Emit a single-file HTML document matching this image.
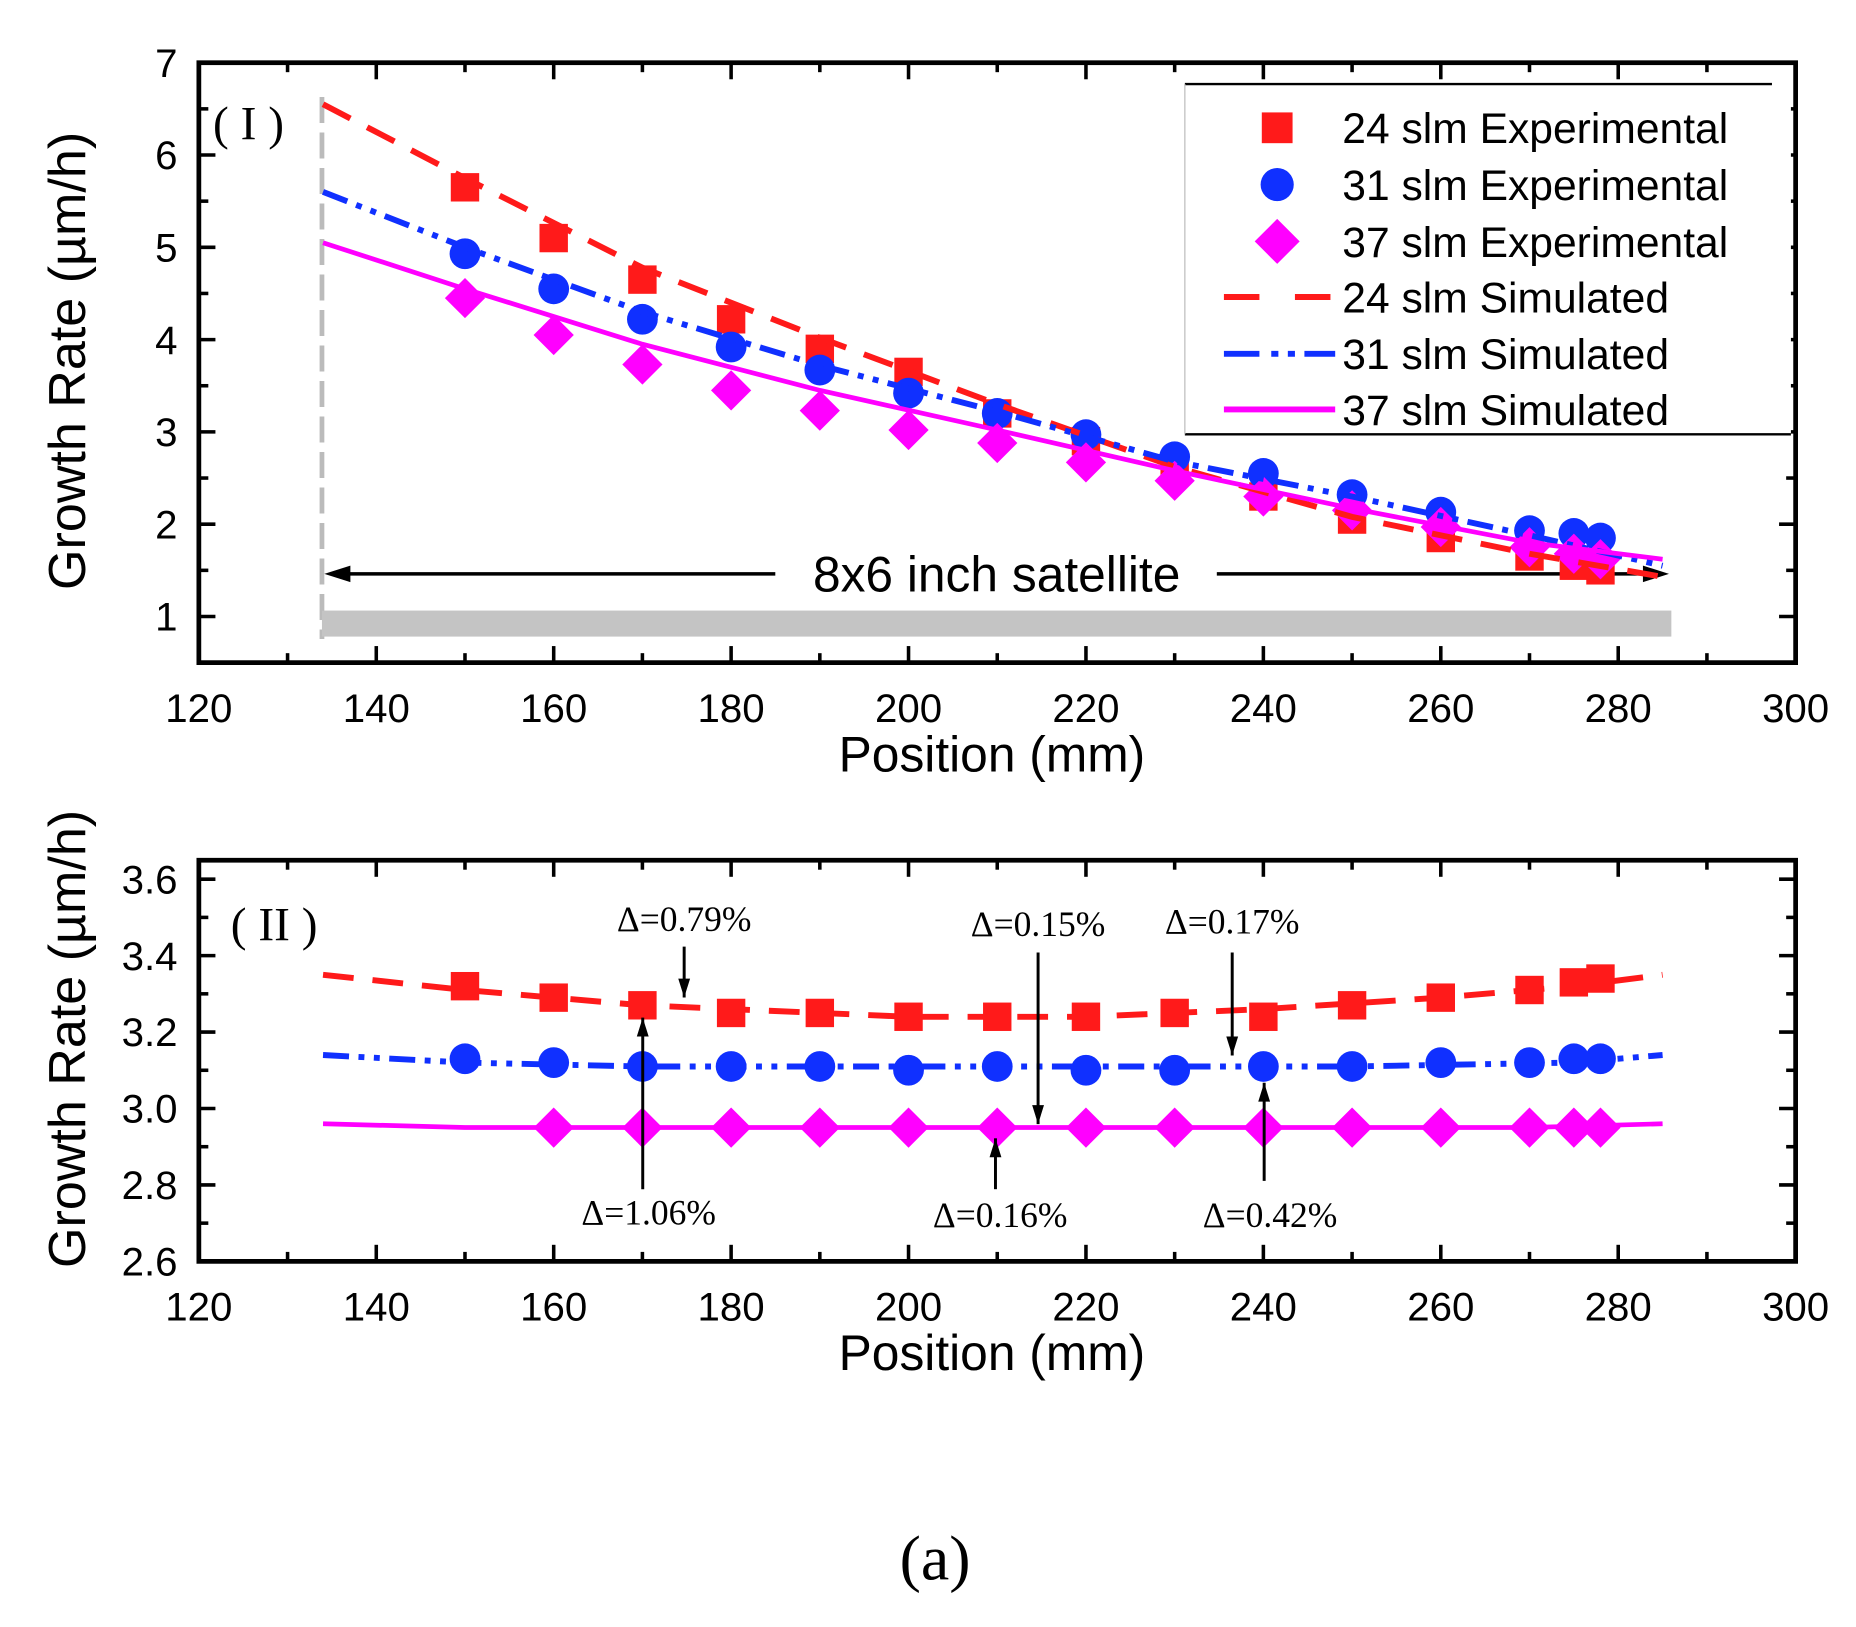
<!DOCTYPE html>
<html><head><meta charset="utf-8"><style>html,body{margin:0;padding:0;background:#fff}svg{display:block}</style></head>
<body>
<svg id="s" width="1856" height="1627" viewBox="0 0 1568 1375" preserveAspectRatio="none" xmlns="http://www.w3.org/2000/svg" font-family="Liberation Sans, Arial, sans-serif">
<rect width="1568" height="1375" fill="#fff"/>
<g id="g"></g>
</svg>
<script>
const NS="http://www.w3.org/2000/svg",g=document.getElementById('g');
function el(t,a,txt){const e=document.createElementNS(NS,t);for(const k in a)e.setAttribute(k,a[k]);if(txt!==undefined)e.textContent=txt;g.appendChild(e);return e;}
const X=v=>168+(v-120)*1349/180;
const Y1=v=>53+(7-v)*78, Y2=v=>743+(3.6-v)*323;
function axes(y0,y1,yt,Yf,fmt,lbly){
 el('rect',{x:168,y:y0,width:1349,height:y1-y0,fill:'none',stroke:'#000','stroke-width':4});
 for(let v=120;v<=300;v+=10){const x=X(v),maj=v%20==0,L=maj?14:8;
  el('line',{x1:x,x2:x,y1:y1,y2:y1-L,stroke:'#000','stroke-width':3});
  el('line',{x1:x,x2:x,y1:y0,y2:y0+L,stroke:'#000','stroke-width':3});
  if(maj)el('text',{x:x,y:y1+50,'font-size':34,'text-anchor':'middle'},v);}
 yt.forEach(([v,maj])=>{const y=Yf(v),L=maj?14:8;
  el('line',{x1:168,x2:168+L,y1:y,y2:y,stroke:'#000','stroke-width':3});
  el('line',{x1:1517,x2:1517-L,y1:y,y2:y,stroke:'#000','stroke-width':3});
  if(maj)el('text',{x:150,y:y+12,'font-size':34,'text-anchor':'end'},fmt(v));});
 el('text',{x:838,y:y1+92,'font-size':42,'text-anchor':'middle'},'Position (mm)');
}
let t1=[];for(let v=1;v<=7;v+=0.5)t1.push([v,v%1==0]);
axes(53,560,t1,Y1,v=>v,0);
let t2=[];for(let i=0;i<=10;i++){const v=2.6+i*0.1;t2.push([v,i%2==0]);}
axes(727,1066,t2,Y2,v=>v.toFixed(1),0);
el('text',{x:0,y:0,'font-size':44,'text-anchor':'middle',transform:'translate(72,305) rotate(-90)'},'Growth Rate (µm/h)');
el('text',{x:0,y:0,'font-size':44,'text-anchor':'middle',transform:'translate(72,878) rotate(-90)'},'Growth Rate (µm/h)');
el('text',{x:180,y:118,'font-size':40,'font-family':'Liberation Serif, serif'},'( I )');
el('text',{x:195,y:795,'font-size':40,'font-family':'Liberation Serif, serif'},'( II )');
// satellite
el('line',{x1:272,x2:272,y1:82,y2:540,stroke:'#bbb','stroke-width':4,'stroke-dasharray':'22,8'});
el('rect',{x:272,y:516,width:1140,height:22,fill:'#c4c4c4'});
el('line',{x1:280,x2:655,y1:485,y2:485,stroke:'#000','stroke-width':3});
el('line',{x1:1028,x2:1405,y1:485,y2:485,stroke:'#000','stroke-width':3});
el('polygon',{points:'274,485 296,478 296,492',fill:'#000'});
el('polygon',{points:'1410,485 1388,478 1388,492',fill:'#000'});
el('text',{x:842,y:500,'font-size':42,'text-anchor':'middle'},'8x6 inch satellite');
// curves top
function path(pts,Yf){return pts.map((p,i)=>(i?'L':'M')+X(p[0]).toFixed(1)+','+Yf(p[1]).toFixed(1)).join(' ');}
const rs=[[134,6.55],[150,5.75],[170,4.78],[190,4.02],[210,3.3],[230,2.62],[250,2.08],[270,1.68],[285,1.43]];
const bs=[[134,5.6],[150,5.0],[170,4.3],[190,3.72],[210,3.22],[230,2.68],[250,2.3],[270,1.88],[285,1.55]];
const ms=[[134,5.05],[150,4.55],[170,3.95],[190,3.45],[210,3.02],[230,2.58],[250,2.17],[270,1.8],[285,1.62]];
const RED='#ff1a1a',BLUE='#1030ff',MAG='#ff00ff';
function sq(x,y,s,c){el('rect',{x:x-s/2,y:y-s/2,width:s,height:s,fill:c});}
function ci(x,y,r,c){el('circle',{cx:x,cy:y,r:r,fill:c});}
function di(x,y,r,c){el('polygon',{points:`${x},${y-r} ${x+r},${y} ${x},${y+r} ${x-r},${y}`,fill:c});}
const xs=[150,160,170,180,190,200,210,220,230,240,250,260,270,275,278];
const r1=[5.65,5.1,4.65,4.22,3.9,3.65,3.2,2.9,2.6,2.3,2.05,1.85,1.65,1.55,1.5];
const b1=[4.93,4.55,4.22,3.92,3.67,3.42,3.2,2.97,2.73,2.55,2.32,2.13,1.93,1.9,1.85];
const m1=[4.45,4.05,3.73,3.45,3.23,3.02,2.88,2.67,2.47,2.3,2.15,1.97,1.75,1.68,1.62];
xs.forEach((x,i)=>sq(X(x),Y1(r1[i]),24,RED));
xs.forEach((x,i)=>ci(X(x),Y1(b1[i]),13,BLUE));
xs.forEach((x,i)=>di(X(x),Y1(m1[i]),17,MAG));
el('path',{d:path(rs,Y1),fill:'none',stroke:RED,'stroke-width':5,'stroke-dasharray':'26,16'});
el('path',{d:path(bs,Y1),fill:'none',stroke:BLUE,'stroke-width':5,'stroke-dasharray':'22,8,5,8,5,8'});
el('path',{d:path(ms,Y1),fill:'none',stroke:MAG,'stroke-width':4});
// legend
el('rect',{x:1001,y:71,width:512,height:296,fill:'#fff'});
el('line',{x1:1001,x2:1497,y1:71,y2:71,stroke:'#000','stroke-width':2});
el('line',{x1:1001,x2:1513,y1:367,y2:367,stroke:'#000','stroke-width':2});
el('line',{x1:1001,x2:1001,y1:71,y2:367,stroke:'#bbb','stroke-width':1});
const lg=[['24 slm Experimental',108],['31 slm Experimental',156],['37 slm Experimental',204],['24 slm Simulated',251],['31 slm Simulated',299],['37 slm Simulated',346]];
lg.forEach(([t,y])=>el('text',{x:1134,y:y+13,'font-size':36},t));
sq(1079,108,26,RED);ci(1079,156,14,BLUE);di(1079,204,19,MAG);
el('line',{x1:1034,x2:1128,y1:251,y2:251,stroke:RED,'stroke-width':5,'stroke-dasharray':'30,30'});
el('line',{x1:1034,x2:1128,y1:299,y2:299,stroke:BLUE,'stroke-width':5,'stroke-dasharray':'30,10,6,8,6,8'});
el('line',{x1:1034,x2:1128,y1:346,y2:346,stroke:MAG,'stroke-width':5});
// bottom
const rb=[[134,3.35],[150,3.31],[170,3.27],[200,3.24],[220,3.24],[240,3.26],[260,3.29],[275,3.32],[285,3.35]];
const bb=[[134,3.14],[150,3.12],[170,3.11],[210,3.11],[250,3.11],[275,3.12],[285,3.14]];
const mb=[[134,2.96],[150,2.95],[270,2.95],[285,2.96]];
el('path',{d:path(rb,Y2),fill:'none',stroke:RED,'stroke-width':5,'stroke-dasharray':'26,16'});
el('path',{d:path(bb,Y2),fill:'none',stroke:BLUE,'stroke-width':5,'stroke-dasharray':'22,8,5,8,5,8'});
el('path',{d:path(mb,Y2),fill:'none',stroke:MAG,'stroke-width':4});
const r2=[3.32,3.29,3.27,3.25,3.25,3.24,3.24,3.24,3.25,3.24,3.27,3.29,3.31,3.33,3.34];
const b2=[3.13,3.12,3.11,3.11,3.11,3.1,3.11,3.1,3.1,3.11,3.11,3.12,3.12,3.13,3.13];
xs.forEach((x,i)=>sq(X(x),Y2(r2[i]),24,RED));
xs.forEach((x,i)=>ci(X(x),Y2(b2[i]),13,BLUE));
xs.forEach((x,i)=>{if(x!=150)di(X(x),Y2(2.95),17,MAG);});
function arrow(x,y1,y2){el('line',{x1:x,x2:x,y1:y1,y2:y2,stroke:'#000','stroke-width':2.5});const d=y2>y1?-1:1;
 el('polygon',{points:`${x},${y2} ${x-5},${y2+d*16} ${x+5},${y2+d*16}`,fill:'#000'});}
arrow(578,800,843);arrow(877,805,950);arrow(1041,805,892);
arrow(543,1005,860);arrow(841,1005,962);arrow(1068,998,915);
const ann=[['Δ=0.79%',578,787],['Δ=0.15%',877,791],['Δ=0.17%',1041,789],['Δ=1.06%',548,1035],['Δ=0.16%',845,1037],['Δ=0.42%',1073,1037]];
ann.forEach(([t,x,y])=>el('text',{x:x,y:y,'font-size':30,'text-anchor':'middle','font-family':'Liberation Serif, serif'},t));
el('text',{x:790,y:1335,'font-size':54,'text-anchor':'middle','font-family':'Liberation Serif, serif'},'(a)');
</script>
</body></html>
